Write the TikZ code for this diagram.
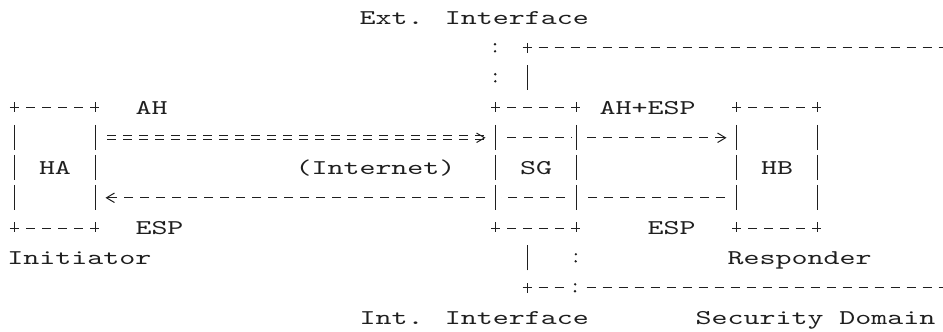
\documentclass[tikz,border=0pt]{standalone}
\usepackage{fontspec}
\usetikzlibrary{arrows.meta,positioning}
\newfontfamily\asciifont{lmmono10-regular.otf}[FakeStretch=1.4512]
\definecolor{ink}{gray}{0.12}

\begin{document}
\begin{tikzpicture}[x=16pt,y=-30pt,line width=1pt,
    every node/.style={text=ink,font=\fontsize{21}{25}\selectfont\asciifont,inner sep=0pt},
    tag/.style={anchor=base west,xshift=-8pt,yshift=-6.4pt},
    hostbox/.style={minimum width=80pt,minimum height=120pt},
    hrule/.style={draw=ink,dash pattern=on 9pt off 7pt,shorten <=-4.5pt,shorten >=-4.5pt},
    vbox/.style={draw=ink,preaction={draw=white,solid,line width=10pt},shorten <=-5pt,shorten >=-5pt,
      dash pattern=on 10pt off 12.5pt on 25pt off 5pt on 25pt off 5pt on 25pt off 12.5pt on 10pt off 5pt},
    vstub/.style={draw=ink,shorten <=-5pt,dash pattern=on 10pt off 12.5pt on 25pt off 30pt},
    vlong/.style={draw=ink,shorten <=-5pt,shorten >=-5pt,dash pattern=on 10pt off 12.5pt on 25pt off 5pt on 25pt
      off 5pt on 25pt off 5pt on 25pt off 5pt on 25pt off 5pt on 25pt off 5pt on 25pt off 12.5pt on 10pt off 5pt},
    flow/.style={draw=ink,dash pattern=on 9pt off 7pt,dash phase=4.5pt,shorten >=10pt,
      -{Straight Barb[length=8pt,width=9.5pt]}},
    eqflow/.style={flow,double,double distance=3pt},
    colon/.style={draw=ink,line width=2.6pt,line cap=round,dash pattern=on 0pt off 7pt on 0pt off 23pt,shorten >=12pt}]
  \useasboundingbox (-0.9375,-0.593) rectangle (58,10.473);

  % hosts
  \node[hostbox] (HA) at (2.5,5) {HA};
  \node[hostbox,right=400pt of HA] (SG) {SG};
  \node[hostbox,right=160pt of SG] (HB) {HB};

  % security domain
  \coordinate (domNW) at (32,1);
  \coordinate (domSE) at (58,9);
  \draw[hrule] (domNW) -- (domNW -| domSE);
  \draw[hrule] (domNW |- domSE) -- (domSE);
  \draw[vstub] (domNW) -- (domNW |- SG.north);
  \draw[vstub] (domNW |- domSE) -- (domNW |- SG.south);
  \draw[vlong] (domNW -| domSE) -- (domSE);

  % traffic
  \draw[eqflow] ([yshift=30pt]HA.east) -- ([yshift=30pt]SG.west);
  \draw[flow] ([yshift=30pt]SG.west) -- ([yshift=30pt]HB.west);
  \draw[flow] ([yshift=-30pt]HB.west) -- ([yshift=-30pt]HA.east);

  % interfaces
  \coordinate[yshift=3.5pt] (extpin) at (30,1);
  \coordinate[yshift=-3.5pt] (intpin) at (35,9);
  \draw[colon] (extpin) -- (SG.north west);
  \draw[colon,preaction={draw=white,solid,line width=10pt}] (intpin) -- (SG.south east);

  \foreach \b in {HA,SG,HB} {
    \draw[vbox] (\b.north west) -- (\b.south west);
    \draw[vbox] (\b.north east) -- (\b.south east);
    \draw[hrule] (\b.north west) -- (\b.north east);
    \draw[hrule] (\b.south west) -- (\b.south east);
  }

  % texts
  \node[tag] (ext) at (22,0) {Ext. Interface};
  \node[tag] (ah) at (8,3) {AH};
  \node[tag] (ahesp) at (37,3) {AH+ESP};
  \node[tag] (net) at (18,5) {(Internet)};
  \node[tag] (espl) at (8,7) {ESP};
  \node[tag] (espr) at (40,7) {ESP};
  \node[tag] (ini) at (0,8) {Initiator};
  \node[tag] (resp) at (45,8) {Responder};
  \node[tag] (int) at (22,10) {Int. Interface};
  \node[tag] (dom) at (43,10) {Security Domain};
\end{tikzpicture}
\end{document}
